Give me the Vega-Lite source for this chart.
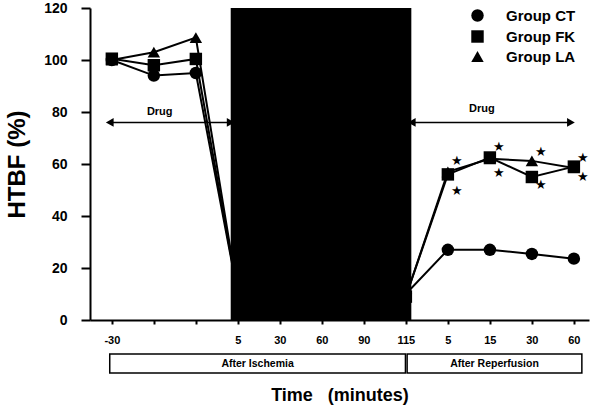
{
  "$schema": "https://vega.github.io/schema/vega-lite/v6.json",
  "width": 499,
  "height": 312,
  "padding": {"left": 5, "top": 1, "right": 5, "bottom": 2},
  "background": "white",
  "config": {
    "view": {"stroke": null},
    "font": "Liberation Sans",
    "axis": {"labelFont": "Liberation Sans", "titleFont": "Liberation Sans", "labelColor": "black", "titleColor": "black", "domainColor": "black", "tickColor": "black", "grid": false}
  },
  "data": {"values": [
    {"group": "Group CT", "idx": 0, "value": 100},
    {"group": "Group CT", "idx": 1, "value": 94},
    {"group": "Group CT", "idx": 2, "value": 95},
    {"group": "Group CT", "idx": 3, "value": 10},
    {"group": "Group CT", "idx": 7, "value": 10},
    {"group": "Group CT", "idx": 8, "value": 27},
    {"group": "Group CT", "idx": 9, "value": 27},
    {"group": "Group CT", "idx": 10, "value": 25.4},
    {"group": "Group CT", "idx": 11, "value": 23.6},
    {"group": "Group FK", "idx": 0, "value": 100.5},
    {"group": "Group FK", "idx": 1, "value": 98},
    {"group": "Group FK", "idx": 2, "value": 100.4},
    {"group": "Group FK", "idx": 3, "value": 10},
    {"group": "Group FK", "idx": 7, "value": 9},
    {"group": "Group FK", "idx": 8, "value": 56},
    {"group": "Group FK", "idx": 9, "value": 62.5},
    {"group": "Group FK", "idx": 10, "value": 55},
    {"group": "Group FK", "idx": 11, "value": 59},
    {"group": "Group LA", "idx": 0, "value": 100},
    {"group": "Group LA", "idx": 1, "value": 103},
    {"group": "Group LA", "idx": 2, "value": 108.6},
    {"group": "Group LA", "idx": 3, "value": 10},
    {"group": "Group LA", "idx": 7, "value": 9},
    {"group": "Group LA", "idx": 8, "value": 57},
    {"group": "Group LA", "idx": 9, "value": 62},
    {"group": "Group LA", "idx": 10, "value": 61.2},
    {"group": "Group LA", "idx": 11, "value": 58.5}
  ]},
  "layer": [
    {
      "mark": {"type": "line", "color": "black", "strokeWidth": 2},
      "encoding": {
        "x": {
          "field": "idx", "type": "quantitative",
          "scale": {"domain": [-0.52, 11.36], "nice": false, "zero": false},
          "axis": {
            "values": [0, 1, 2, 3, 4, 5, 6, 7, 8, 9, 10, 11],
            "labelExpr": "['-30','','','5','30','60','90','115','5','15','30','60'][datum.value]",
            "title": "Time \u00a0 (minutes)", "titleFontSize": 18, "titleFontWeight": "bold", "titlePadding": 41,
            "tickSize": 4, "tickWidth": 2, "domainWidth": 2,
            "labelFontSize": 11, "labelFontWeight": "bold", "labelPadding": 10,
            "labelFlush": false, "labelOverlap": false
          }
        },
        "y": {
          "field": "value", "type": "quantitative",
          "scale": {"domain": [0, 120], "nice": false},
          "axis": {
            "values": [0, 10, 20, 30, 40, 50, 60, 70, 80, 90, 100, 110, 120],
            "labelExpr": "datum.value % 20 == 0 ? datum.label : ''",
            "title": "HTBF (%)", "titleFontSize": 24, "titleFontWeight": "bold", "titlePadding": 14,
            "tickSize": 9, "tickWidth": 2, "domainWidth": 2,
            "labelFontSize": 14, "labelFontWeight": "bold", "labelPadding": 14,
            "labelOverlap": false, "labelFlush": false
          }
        },
        "detail": {"field": "group", "type": "nominal"}
      }
    },
    {
      "mark": {"type": "point", "filled": true, "color": "black", "opacity": 1, "size": 155},
      "encoding": {
        "x": {"field": "idx", "type": "quantitative"},
        "y": {"field": "value", "type": "quantitative"},
        "shape": {
          "field": "group", "type": "nominal",
          "scale": {"range": ["circle", "square", "triangle-up"]},
          "legend": {
            "orient": "none", "legendX": 380, "legendY": 0, "title": null,
            "symbolSize": 155, "symbolFillColor": "black",
            "labelFont": "Liberation Sans", "labelFontSize": 15, "labelFontWeight": "bold",
            "labelColor": "black", "labelOffset": 21, "rowPadding": 2, "padding": 0
          }
        }
      }
    },
    {
      "data": {"values": [{"start": 2.83, "end": 7.13, "lo": 0, "hi": 120}]},
      "mark": {"type": "rect", "color": "black"},
      "encoding": {
        "x": {"field": "start", "type": "quantitative"},
        "x2": {"field": "end"},
        "y": {"field": "lo", "type": "quantitative"},
        "y2": {"field": "hi"}
      }
    },
    {
      "data": {"values": [
        {"idx": 8, "value": 61},
        {"idx": 8, "value": 49.8},
        {"idx": 9, "value": 66.5},
        {"idx": 9, "value": 56.5},
        {"idx": 10, "value": 64.6},
        {"idx": 10, "value": 52},
        {"idx": 11, "value": 62.5},
        {"idx": 11, "value": 55}
      ]},
      "mark": {"type": "text", "text": "\u2605", "font": "DejaVu Sans", "fontSize": 13, "dx": 9, "align": "center", "baseline": "middle", "color": "black"},
      "encoding": {
        "x": {"field": "idx", "type": "quantitative"},
        "y": {"field": "value", "type": "quantitative"}
      }
    },
    {
      "data": {"values": [
        {"start": -0.05, "end": 2.83, "level": 76, "tx": 1.14, "ty": 80, "label": "Drug"},
        {"start": 7.14, "end": 10.93, "level": 76, "tx": 8.81, "ty": 81, "label": "Drug"}
      ]},
      "layer": [
        {
          "mark": {"type": "rule", "color": "black", "strokeWidth": 1.5},
          "encoding": {
            "x": {"field": "start", "type": "quantitative"},
            "x2": {"field": "end"},
            "y": {"field": "level", "type": "quantitative"}
          }
        },
        {
          "mark": {"type": "point", "shape": "triangle-left", "filled": true, "color": "black", "size": 80, "opacity": 1},
          "encoding": {
            "x": {"field": "start", "type": "quantitative"},
            "y": {"field": "level", "type": "quantitative"}
          }
        },
        {
          "mark": {"type": "point", "shape": "triangle-right", "filled": true, "color": "black", "size": 80, "opacity": 1},
          "encoding": {
            "x": {"field": "end", "type": "quantitative"},
            "y": {"field": "level", "type": "quantitative"}
          }
        },
        {
          "mark": {"type": "text", "fontSize": 11, "fontWeight": "bold", "color": "black"},
          "encoding": {
            "x": {"field": "tx", "type": "quantitative"},
            "y": {"field": "ty", "type": "quantitative"},
            "text": {"field": "label", "type": "nominal"}
          }
        }
      ]
    },
    {
      "data": {"values": [
        {"lo": -0.05, "hi": 6.99, "mid": 3.47, "label": "After Ischemia"},
        {"lo": 7.03, "hi": 11.19, "mid": 9.11, "label": "After Reperfusion"}
      ]},
      "layer": [
        {
          "mark": {"type": "rect", "fill": "white", "stroke": "black", "strokeWidth": 1.5},
          "encoding": {
            "x": {"field": "lo", "type": "quantitative"},
            "x2": {"field": "hi"},
            "y": {"datum": -13.1, "type": "quantitative"},
            "y2": {"datum": -20.4}
          }
        },
        {
          "mark": {"type": "text", "fontSize": 10.5, "fontWeight": "bold", "color": "black"},
          "encoding": {
            "x": {"field": "mid", "type": "quantitative"},
            "y": {"datum": -16.75, "type": "quantitative"},
            "text": {"field": "label", "type": "nominal"}
          }
        }
      ]
    }
  ]
}
